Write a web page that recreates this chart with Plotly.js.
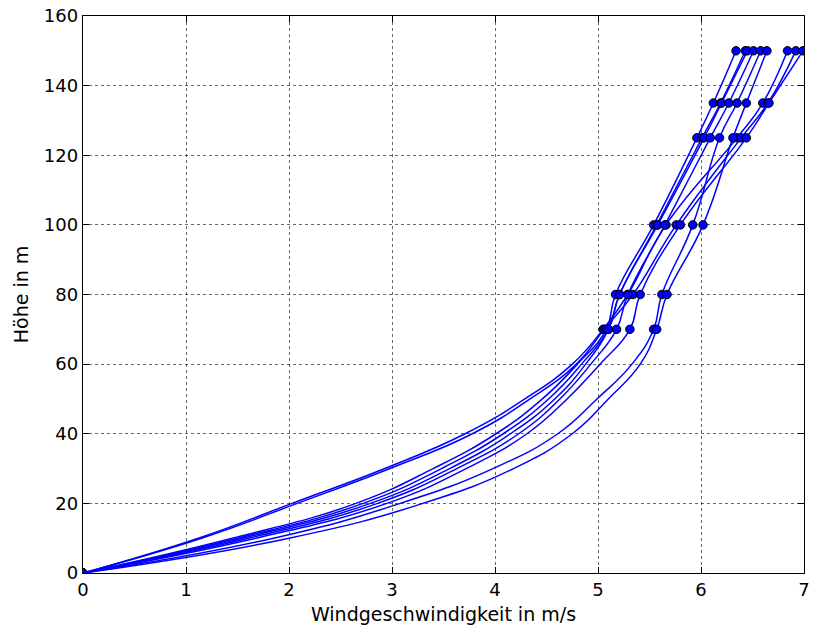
<!DOCTYPE html>
<html>
<head>
<meta charset="utf-8">
<script src="https://cdn.plot.ly/plotly-3.0.1.min.js"></script>
<style>html,body{margin:0;padding:0;background:#fff;}#chart{width:813px;height:632px;}</style>
</head>
<body>
<div id="chart"></div>
<script>
// Heights (m)
var lowHeights = [0, 10, 20, 30, 40, 50, 60];
var measHeights = [70, 80, 100, 125, 135, 150];

var lowH1 = [0, 1.12, 2.03, 2.93, 3.71, 4.29, 4.75];
var lowH2 = [0, 1.15, 2.08, 2.98, 3.78, 4.34, 4.79];
var lowH3 = [0, 1.68, 2.95, 3.72, 4.31, 4.70, 5.02];
var lowM1 = [0, 1.45, 2.65, 3.40, 4.01, 4.46, 4.80];
var lowM2 = [0, 1.50, 2.72, 3.48, 4.08, 4.52, 4.84];
var lowM3 = [0, 1.55, 2.79, 3.56, 4.15, 4.58, 4.88];
var lowM4 = [0, 1.61, 2.86, 3.63, 4.23, 4.63, 4.93];
var lowL1 = [0, 1.85, 3.08, 3.98, 4.61, 4.99, 5.33];
var lowL2 = [0, 2.00, 3.30, 4.18, 4.75, 5.10, 5.41];

// Measured wind speeds (m/s) at the measurement heights
var measH1 = [5.05, 5.29, 5.66, 6.35, 6.60, 6.84];
var measH2 = [5.06, 5.34, 5.76, 6.39, 6.65, 6.92];
var measH3 = [5.31, 5.41, 5.80, 6.44, 6.66, 6.99];
var measM1 = [5.08, 5.17, 5.54, 5.96, 6.12, 6.34];
var measM2 = [5.10, 5.21, 5.57, 6.01, 6.19, 6.43];
var measM3 = [5.10, 5.21, 5.58, 6.03, 6.20, 6.45];
var measM4 = [5.18, 5.29, 5.65, 6.09, 6.27, 6.51];
var measL1 = [5.54, 5.62, 5.92, 6.18, 6.35, 6.58];
var measL2 = [5.57, 5.67, 6.02, 6.31, 6.44, 6.64];

var xTicks = [0, 1, 2, 3, 4, 5, 6, 7];
var yTicks = [0, 20, 40, 60, 80, 100, 120, 140, 160];

var profiles = [
  [lowH1, measH1], [lowH2, measH2], [lowH3, measH3],
  [lowM1, measM1], [lowM2, measM2], [lowM3, measM3], [lowM4, measM4],
  [lowL1, measL1], [lowL2, measL2]
];

var lineTraces = [], markerTraces = [];
profiles.forEach(function (p) {
  var low = p[0], meas = p[1];
  lineTraces.push({
    x: low.concat(meas), y: lowHeights.concat(measHeights),
    mode: 'lines', type: 'scatter', hoverinfo: 'skip',
    line: {color: '#0000ff', width: 1.5, shape: 'spline', smoothing: 1.3}
  });
  markerTraces.push({
    x: [low[0]].concat(meas), y: [lowHeights[0]].concat(measHeights),
    mode: 'markers', type: 'scatter', cliponaxis: true,
    marker: {color: '#0000ff', size: 8.5, line: {color: '#000000', width: 1}}
  });
});

var axisCommon = {
  showline: true, mirror: 'ticks', linecolor: '#000', linewidth: 1.3,
  ticks: 'inside', ticklen: 6, tickwidth: 1, tickcolor: '#000',
  showgrid: true, gridcolor: 'rgba(0,0,0,0.6)', griddash: 'dot', gridwidth: 1,
  zeroline: false, tickfont: {family: 'DejaVu Sans', size: 18, color: '#000'}
};

var layout = {
  width: 813, height: 632,
  margin: {l: 83, r: 9, t: 16, b: 59},
  paper_bgcolor: '#fff', plot_bgcolor: '#fff',
  showlegend: false,
  xaxis: Object.assign({}, axisCommon, {
    range: [0, 7], tickvals: xTicks, ticktext: xTicks.map(String),
    title: {text: 'Windgeschwindigkeit in m/s', font: {family: 'DejaVu Sans', size: 19, color: '#000'}, standoff: 8}
  }),
  yaxis: Object.assign({}, axisCommon, {
    range: [0, 160], tickvals: yTicks, ticktext: yTicks.map(String),
    title: {text: 'Höhe in m', font: {family: 'DejaVu Sans', size: 19, color: '#000'}, standoff: 10}
  })
};

Plotly.newPlot('chart', lineTraces.concat(markerTraces), layout, {displayModeBar: false, staticPlot: true});
</script>
</body>
</html>
